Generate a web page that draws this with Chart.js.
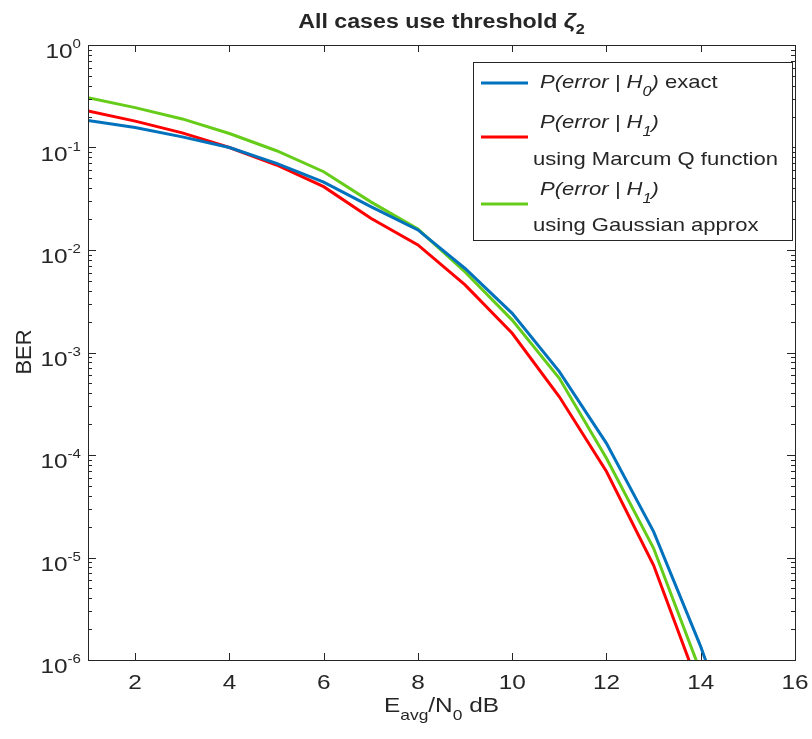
<!DOCTYPE html>
<html lang="en">
<head>
<meta charset="UTF-8">
<title>All cases use threshold</title>
<script src="https://cdn.jsdelivr.net/npm/chart.js"></script>
<style>
  body { margin: 0; background: #fff; }
</style>
</head>
<body>
<canvas id="ber" width="812" height="739"></canvas>
<script>
// Eavg/N0 in dB
const snrH0 = [1, 2, 3, 4, 5, 6, 7, 8, 9, 10, 11, 12, 13, 14, 15];
const snrH1 = [1, 2, 3, 4, 5, 6, 7, 8, 9, 10, 11, 12, 13, 14];

// BER values
const berH0Exact = [0.183, 0.157, 0.127, 0.100, 0.070, 0.046, 0.0265, 0.0157, 0.0066, 0.00241, 0.00065, 1.3e-4, 1.79e-5, 1.35e-6, 6.8e-8];
const berH1Marcum = [0.227, 0.181, 0.139, 0.100, 0.0675, 0.0415, 0.0204, 0.0112, 0.00456, 0.00154, 0.00037, 6.9e-5, 8.4e-6, 4.9e-7];
const berH1Gauss = [0.306, 0.245, 0.19, 0.137, 0.093, 0.058, 0.0295, 0.016, 0.0061, 0.00207, 0.00056, 9.3e-5, 1.23e-5, 7.6e-7];

const xTicks = [2, 4, 6, 8, 10, 12, 14, 16];
const yDecades = [-6, -5, -4, -3, -2, -1, 0];

const FONT = '"Liberation Sans", Arial, sans-serif';
const INK = '#262626';
const SX = 1.16; // text in the reference is a bit wide

function pts(xs, ys) {
    return xs.map((x, i) => ({ x: x, y: ys[i] }));
}

// draw a row of text pieces (for sub/superscripts)
function drawRuns(ctx, runs, x, y, align, sx) {
    let w = 0;
    runs.forEach(r => {
        ctx.font = r.font;
        r.w = ctx.measureText(r.t).width * sx;
        w += r.w;
    });
    let cx = align === 'center' ? x - w / 2 : (align === 'right' ? x - w : x);
    runs.forEach(r => {
        ctx.save();
        ctx.font = r.font;
        ctx.fillStyle = INK;
        ctx.textAlign = 'left';
        ctx.textBaseline = 'alphabetic';
        ctx.translate(cx, y + (r.dy || 0));
        ctx.scale(sx, 1);
        ctx.fillText(r.t, 0, 0);
        ctx.restore();
        cx += r.w;
    });
}

const matlabAxes = {
    id: 'matlabAxes',
    afterDatasetsDraw(chart) {
        const ctx = chart.ctx;
        const a = chart.chartArea;
        const xs = chart.scales.x;
        const ys = chart.scales.y;
        ctx.save();
        ctx.strokeStyle = INK;
        ctx.lineWidth = 1;

        // box
        ctx.strokeRect(Math.round(a.left) + 0.5, Math.round(a.top) + 0.5,
            Math.round(a.right - a.left), Math.round(a.bottom - a.top));

        ctx.beginPath();
        // x ticks top + bottom
        xTicks.forEach(v => {
            const px = Math.round(xs.getPixelForValue(v)) + 0.5;
            ctx.moveTo(px, a.bottom); ctx.lineTo(px, a.bottom - 7);
            ctx.moveTo(px, a.top); ctx.lineTo(px, a.top + 7);
        });
        // y ticks left + right, major and minor
        yDecades.forEach(e => {
            for (let m = 1; m <= 9; m++) {
                if (e === 0 && m > 1) break;
                const py = Math.round(ys.getPixelForValue(m * Math.pow(10, e))) + 0.5;
                const len = m === 1 ? 8 : 4;
                ctx.moveTo(a.left, py); ctx.lineTo(a.left + len, py);
                ctx.moveTo(a.right, py); ctx.lineTo(a.right - len, py);
            }
        });
        ctx.stroke();

        // tick labels
        xTicks.forEach(v => {
            drawRuns(ctx, [{ t: String(v), font: '21px ' + FONT }],
                xs.getPixelForValue(v), a.bottom + 29, 'center', SX);
        });
        yDecades.forEach(e => {
            const py = ys.getPixelForValue(Math.pow(10, e));
            drawRuns(ctx, [
                { t: '10', font: '21px ' + FONT },
                { t: String(e), font: '13px ' + FONT, dy: -10 }
            ], 81, py + 13, 'right', SX);
        });

        // title
        drawRuns(ctx, [
            { t: 'All cases use threshold ', font: 'bold 20px ' + FONT },
            { t: 'ζ', font: 'bold italic 21px ' + FONT },
            { t: '2', font: 'bold 14px ' + FONT, dy: 6 }
        ], (a.left + a.right) / 2, 28, 'center', SX);

        // axis titles
        drawRuns(ctx, [
            { t: 'E', font: '21px ' + FONT },
            { t: 'avg', font: '15px ' + FONT, dy: 8 },
            { t: '/N', font: '21px ' + FONT },
            { t: '0', font: '15px ' + FONT, dy: 8 },
            { t: ' dB', font: '21px ' + FONT }
        ], (a.left + a.right) / 2, 712, 'center', SX);

        ctx.save();
        ctx.translate(31, 352);
        ctx.rotate(-Math.PI / 2);
        drawRuns(ctx, [{ t: 'BER', font: '22px ' + FONT }], 0, 0, 'center', 1);
        ctx.restore();

        // legend
        const lx = 473, ly = 62, lw = 319, lh = 178;
        ctx.fillStyle = '#fff';
        ctx.fillRect(lx, ly, lw, lh);
        ctx.strokeStyle = INK;
        ctx.strokeRect(lx + 0.5, ly + 0.5, lw, lh);

        const it = 'italic 19px ' + FONT, itSub = 'italic 14px ' + FONT, up = '19px ' + FONT;
        const rows = [
            { ds: 0, lineY: 83, text: [[{ t: 'P(error | H', font: it }, { t: '0', font: itSub, dy: 8 }, { t: ')', font: it }, { t: ' exact', font: up }]], base: [88] },
            { ds: 1, lineY: 137, text: [[{ t: 'P(error | H', font: it }, { t: '1', font: itSub, dy: 8 }, { t: ')', font: it }], [{ t: 'using Marcum Q function', font: up }]], base: [128, 165] },
            { ds: 2, lineY: 204, text: [[{ t: 'P(error | H', font: it }, { t: '1', font: itSub, dy: 8 }, { t: ')', font: it }], [{ t: 'using Gaussian approx', font: up }]], base: [195, 231] }
        ];
        rows.forEach(r => {
            const ds = chart.data.datasets[r.ds];
            ctx.strokeStyle = ds.borderColor;
            ctx.lineWidth = ds.borderWidth;
            ctx.beginPath();
            ctx.moveTo(481, r.lineY);
            ctx.lineTo(528, r.lineY);
            ctx.stroke();
            r.text.forEach((runs, i) => {
                drawRuns(ctx, runs, i === 0 ? 540 : 533, r.base[i], 'left', SX);
            });
        });
        ctx.restore();
    }
};

new Chart(document.getElementById('ber').getContext('2d'), {
    type: 'line',
    data: {
        datasets: [{
            label: 'P(error | H0) exact',
            data: pts(snrH0, berH0Exact),
            borderColor: '#0072BD',
            borderWidth: 3
        }, {
            label: 'P(error | H1) using Marcum Q function',
            data: pts(snrH1, berH1Marcum),
            borderColor: '#FF0000',
            borderWidth: 3
        }, {
            label: 'P(error | H1) using Gaussian approx',
            data: pts(snrH1, berH1Gauss),
            borderColor: '#66CC1A',
            borderWidth: 3
        }]
    },
    options: {
        responsive: false,
        animation: false,
        devicePixelRatio: 1,
        elements: {
            point: { radius: 0 },
            line: { tension: 0, fill: false }
        },
        layout: { padding: { left: 88, right: 17, top: 45, bottom: 0 } },
        plugins: {
            legend: { display: false },
            tooltip: { enabled: false },
            title: { display: false }
        },
        scales: {
            x: {
                type: 'linear',
                min: 1,
                max: 16,
                grid: { display: false },
                border: { display: false },
                ticks: { display: false },
                afterBuildTicks: s => { s.ticks = xTicks.map(v => ({ value: v })); },
                afterFit: s => { s.height = 79; }
            },
            y: {
                type: 'logarithmic',
                min: 1e-6,
                max: 1,
                display: false
            }
        }
    },
    plugins: [matlabAxes]
});
</script>
</body>
</html>
